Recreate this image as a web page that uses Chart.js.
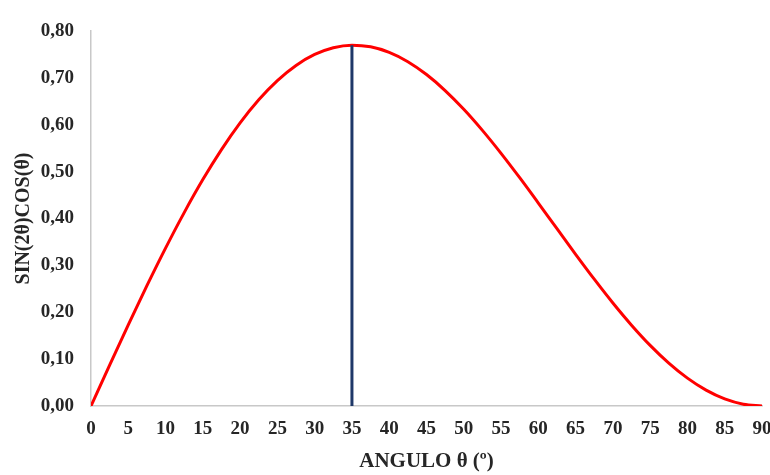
<!DOCTYPE html>
<html>
<head>
<meta charset="utf-8">
<script src="https://cdn.jsdelivr.net/npm/chart.js@4.4.1/dist/chart.umd.min.js"></script>
<style>
html,body{margin:0;padding:0;background:#fff;}
#wrap{width:770px;height:475px;position:relative;}
</style>
</head>
<body>
<div id="wrap"><canvas id="c" width="770" height="475"></canvas></div>
<script>
const angles = [0,2.5,5,7.5,10,12.5,15,17.5,20,22.5,25,27.5,30,32.5,35,37.5,40,42.5,45,47.5,50,52.5,55,57.5,60,62.5,65,67.5,70,72.5,75,77.5,80,82.5,85,87.5,90];
const curveValues = [0,0.0871,0.1730,0.2566,0.3368,0.4126,0.4830,0.5470,0.6040,0.6533,0.6943,0.7266,0.7500,0.7644,0.7698,0.7663,0.7544,0.7345,0.7071,0.6730,0.6330,0.5880,0.5390,0.4870,0.4330,0.3782,0.3237,0.2706,0.2198,0.1725,0.1294,0.0915,0.0594,0.0338,0.0151,0.0038,0];
const markerX = [35,35];
const markerY = [0,0.7698];
const xTicks = [0,5,10,15,20,25,30,35,40,45,50,55,60,65,70,75,80,85,90];
const yTicks = [0,0.1,0.2,0.3,0.4,0.5,0.6,0.7,0.8];

const fam = "'Liberation Serif','Times New Roman',serif";
const tickFont = {family:fam, size:19, weight:'bold'};
const xTitleFont = {family:fam, size:21, weight:'bold'};
const yTitleFont = {family:fam, size:20, weight:'bold'};
const textColor = '#262626';

new Chart(document.getElementById('c'), {
  type:'line',
  data:{
    datasets:[
      {
        data: markerX.map((x,i)=>({x:x,y:markerY[i]})),
        borderColor:'#1F3868',
        borderWidth:3,
        pointRadius:0,
        tension:0
      },
      {
        data: angles.map((a,i)=>({x:a,y:curveValues[i]})),
        borderColor:'#FF0000',
        borderWidth:3,
        pointRadius:0,
        cubicInterpolationMode:'monotone'
      }
    ]
  },
  options:{
    responsive:false,
    animation:false,
    events:[],
    layout:{padding:{left:0,right:8,top:31,bottom:0}},
    plugins:{legend:{display:false},tooltip:{enabled:false}},
    scales:{
      x:{
        type:'linear',
        min:0,max:90,
        afterBuildTicks:(s)=>{s.ticks = xTicks.map(v=>({value:v}));},
        afterFit:(s)=>{s.height = 69; s.paddingRight = 0; s.paddingLeft = 0;},
        grid:{display:false,drawTicks:false},
        border:{display:true,color:'#C8C8C8',width:1.5},
        ticks:{font:tickFont,color:textColor,padding:12,maxRotation:0,autoSkip:false},
        title:{display:true,text:'ANGULO θ (º)',font:xTitleFont,color:textColor,padding:{top:0,bottom:1}}
      },
      y:{
        min:0,max:0.8,
        afterBuildTicks:(s)=>{s.ticks = yTicks.map(v=>({value:v}));},
        afterFit:(s)=>{s.width = 91; s.paddingTop = 0; s.paddingBottom = 0;},
        grid:{display:false,drawTicks:false},
        border:{display:true,color:'#C8C8C8',width:1.5},
        ticks:{font:tickFont,color:textColor,padding:17,autoSkip:false,
          callback:(v)=>Number(v).toFixed(2).replace('.',',')},
        title:{display:true,text:'SIN(2θ)COS(θ)',font:yTitleFont,color:textColor,padding:{top:12,bottom:0}}
      }
    }
  }
});
</script>
</body>
</html>
